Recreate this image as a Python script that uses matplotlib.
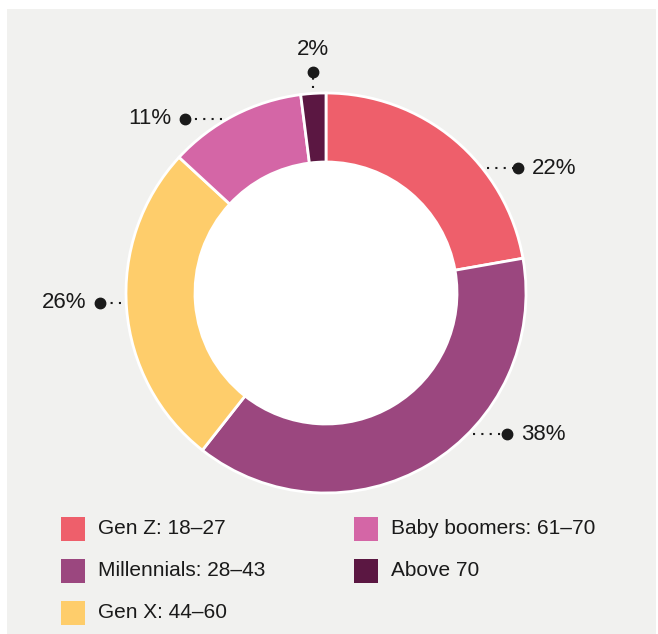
import numpy as np
import matplotlib
matplotlib.use('Agg')
import matplotlib.pyplot as plt
from matplotlib.patches import Rectangle, Circle

plt.rcParams['font.family'] = ['Liberation Sans', 'DejaVu Sans']

# ── data ──
groups = ["Gen Z: 18–27", "Millennials: 28–43", "Gen X: 44–60",
          "Baby boomers: 61–70", "Above 70"]
shares = [22, 38, 26, 11, 2]
colors = ['#ee5f6b', '#9b477f', '#fecd6b', '#d466a6', '#5b1742']

# label placement: side, level (y for left/right, x for top), leader length
label_side = ['right', 'right', 'left', 'left', 'top']
label_level = [0.625, -0.705, -0.05, 0.87, -0.065]
leader_len = [0.155, 0.17, 0.105, 0.185, 0.08]

W, H = 658, 634
RING = 0.345
fig = plt.figure(figsize=(W / 100, H / 100), dpi=100)
fig.patch.set_facecolor('white')
fig.patches.append(Rectangle((7 / W, 0), 649 / W, (H - 9) / H, transform=fig.transFigure,
                             facecolor='#f1f1ef', edgecolor='none', zorder=-1))

ax = fig.add_axes([0, 0, 1, 1])
ax.patch.set_alpha(0)

ax.pie(shares, colors=colors, startangle=90, counterclock=False, radius=1.0,
       wedgeprops=dict(width=RING, edgecolor='white', linewidth=2))
ax.add_patch(Circle((0, 0), 1 - RING, facecolor='white', edgecolor='none', zorder=0))
ax.set_aspect('auto')
ax.set_xlim(-326 / 200, (W - 326) / 200)
ax.set_ylim(-(H - 293) / 200, 293 / 200)
ax.axis('off')

gap = 0.025
for val, side, lvl, ln in zip(shares, label_side, label_level, leader_len):
    edge = np.sqrt(1 - lvl ** 2) + gap
    if side == 'right':
        x0, y0, x1, y1 = edge, lvl, edge + ln, lvl
        tx, ty, ha, va = x1 + 0.07, lvl, 'left', 'center'
    elif side == 'left':
        x0, y0, x1, y1 = -edge, lvl, -edge - ln, lvl
        tx, ty, ha, va = x1 - 0.07, lvl, 'right', 'center'
    else:
        x0, y0, x1, y1 = lvl, edge, lvl, edge + ln
        tx, ty, ha, va = lvl, y1 + 0.06, 'center', 'bottom'
    ax.plot([x0, x1], [y0, y1], color='#1a1a1a', linewidth=1.5,
            linestyle=(0, (1, 3)), solid_capstyle='butt')
    ax.plot([x1], [y1], 'o', color='#1a1a1a', markersize=7.5)
    ax.text(tx, ty, f'{val}%', ha=ha, va=va, fontsize=16, color='#1a1a1a')

# ── legend ──
col_x = [61, 354]
row_y = [529, 571, 613]
for i, (name, c) in enumerate(zip(groups, colors)):
    col, row = (0, i) if i < 3 else (1, i - 3)
    sx, sy = col_x[col], row_y[row]
    fig.patches.append(Rectangle((sx / W, (H - sy - 12) / H), 24 / W, 24 / H,
                                 transform=fig.transFigure, facecolor=c, edgecolor='none'))
    fig.text((sx + 37) / W, (H - sy) / H, name, ha='left', va='center',
             fontsize=15, color='#1a1a1a')

fig.savefig('out.png', dpi=100)
